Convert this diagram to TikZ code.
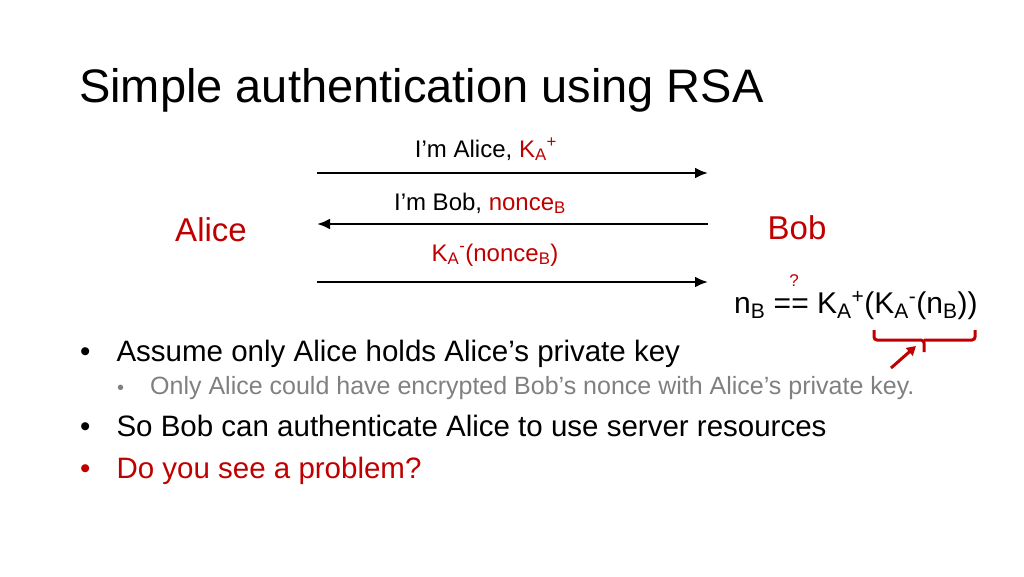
\documentclass[tikz,border=0pt]{standalone}
\usepackage{fontspec}
\setmainfont{Liberation Sans}
\usetikzlibrary{positioning,arrows.meta}
\definecolor{darkred}{RGB}{192,0,0}
\newcommand{\sbs}[1]{\textsubscript{#1}}
\newcommand{\sps}[1]{\textsuperscript{#1}}
\begin{document}
\begin{tikzpicture}[
    x=1pt, y=-1pt,
    msg/.style={line width=2.6pt, -{Latex[length=13pt,width=11pt]}},
    lbl/.style={anchor=base, font=\fontsize{24}{28}\selectfont, inner sep=0pt},
    party/.style={anchor=base, text=darkred, font=\fontsize{33}{38}\selectfont, inner sep=0pt},
    item/.style={anchor=base west, font=\fontsize{29.5}{34}\selectfont, inner sep=0pt},
    subitem/.style={anchor=base west, text=gray, font=\fontsize{20}{24}\selectfont, inner sep=0pt}
]
\useasboundingbox (0,0) rectangle (1024,576);

% title
\node[anchor=base west, inner sep=0pt, font=\fontsize{47}{54}\selectfont] (title) at (79,102) {Simple authentication using RSA};

% parties
\node[party] (alice) at (211,241) {Alice};
\node[party] (bob) at (797,239) {Bob};

% messages
\coordinate (l1) at (317,173); \coordinate (r1) at (708,173);
\coordinate (l2) at (317,224); \coordinate (r2) at (708,224);
\coordinate (l3) at (317,282); \coordinate (r3) at (708,282);
\draw[msg] (l1) -- (r1);
\draw[msg] (r2) -- (l2);
\draw[msg] (l3) -- (r3);
\node[lbl] (m1) at (486,157) {I’m Alice, \textcolor{darkred}{K\sbs{A}\sps{+}}};
\node[lbl] (m2) at (480,210) {I’m Bob, \textcolor{darkred}{nonce\sbs{B}}};
\node[lbl] (m3) at (495,261) {\textcolor{darkred}{K\sbs{A}\sps{-}(nonce\sbs{B})}};

% check at Bob
\node[anchor=base west, inner sep=0pt, font=\fontsize{30}{34}\selectfont] (check) at (734,313) {n\sbs{B} == K\sbs{A}\sps{+}(K\sbs{A}\sps{-}(n\sbs{B}))};
\node[anchor=base, inner sep=0pt, text=darkred, font=\fontsize{17}{20}\selectfont] (q) at (794,286) {?};
\coordinate (bl) at (874,330); \coordinate (br) at (975,330); \coordinate (bt) at (924,352);
\draw[darkred, line width=3pt, rounded corners=3pt] (bl) |- (924,340) -- (bt) (924,340) -| (br);
\coordinate (as) at (891,368); \coordinate (ae) at (916,346);
\draw[darkred, line width=3pt, -{Triangle[length=9pt,width=10pt]}] (as) -- (ae);

% bullets
\node[item] (b1) at (80,361) {•\hspace{26pt}Assume only Alice holds Alice’s private key};
\node[subitem] (b1a) at (117,394) {•\hspace{26pt}\fontsize{25}{29}\selectfont Only Alice could have encrypted Bob’s nonce with Alice’s private key.};
\node[item] (b2) at (80,436) {•\hspace{26pt}So Bob can authenticate Alice to use server resources};
\node[item, text=darkred] (b3) at (80,478) {•\hspace{26pt}Do you see a problem?};
\end{tikzpicture}
\end{document}
